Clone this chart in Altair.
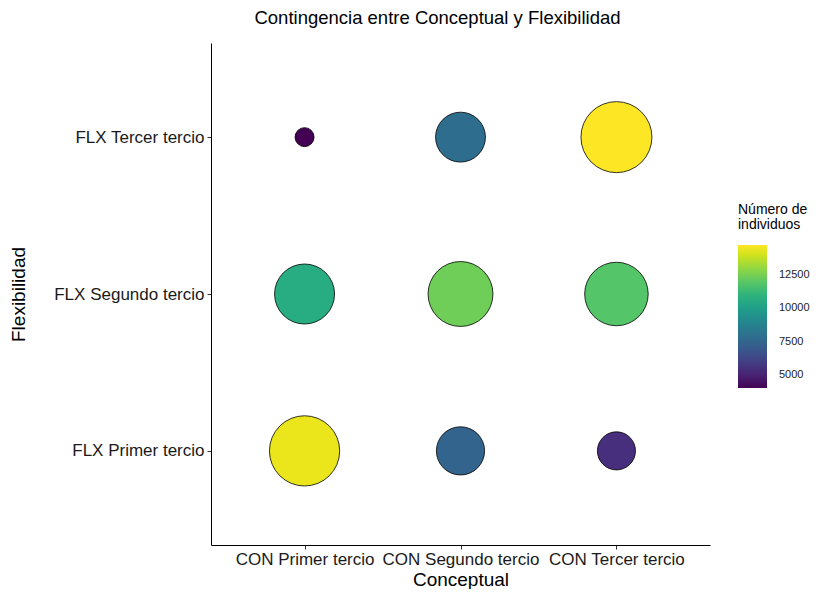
import altair as alt
import pandas as pd

con_levels = ["CON Primer tercio", "CON Segundo tercio", "CON Tercer tercio"]
flx_levels = ["FLX Primer tercio", "FLX Segundo tercio", "FLX Tercer tercio"]

con = ["CON Primer tercio", "CON Segundo tercio", "CON Tercer tercio",
       "CON Primer tercio", "CON Segundo tercio", "CON Tercer tercio",
       "CON Primer tercio", "CON Segundo tercio", "CON Tercer tercio"]
flx = ["FLX Primer tercio", "FLX Primer tercio", "FLX Primer tercio",
       "FLX Segundo tercio", "FLX Segundo tercio", "FLX Segundo tercio",
       "FLX Tercer tercio", "FLX Tercer tercio", "FLX Tercer tercio"]
n = [14450, 7400, 5450,
     10700, 12400, 11900,
     4000, 7800, 14770]

legend_values = [5000, 7500, 10000, 12500]

df = pd.DataFrame({"con": con, "flx": flx, "n": n})

FONT = "Liberation Sans"

chart = (
    alt.Chart(df)
    .transform_joinaggregate(nmin="min(n)", nmax="max(n)")
    .transform_calculate(
        diam="19 + 52 * sqrt((datum.n - datum.nmin) / (datum.nmax - datum.nmin))"
    )
    .transform_calculate(sz="datum.diam * datum.diam")
    .mark_point(shape="circle", filled=True, stroke="black", strokeWidth=0.8, opacity=1)
    .encode(
        x=alt.X("con:N", sort=con_levels, title="Conceptual",
                scale=alt.Scale(type="point", padding=0.6)),
        y=alt.Y("flx:N", sort=flx_levels[::-1], title="Flexibilidad",
                scale=alt.Scale(type="point", padding=0.6)),
        color=alt.Color("n:Q", scale=alt.Scale(scheme="viridis"),
                        title=["Número de", "individuos"],
                        legend=alt.Legend(values=legend_values, format="d",
                                          orient="none", legendX=527, legendY=160,
                                          gradientLength=143, gradientThickness=29,
                                          titleFontSize=14, labelFontSize=11,
                                          titleFontWeight="normal", titleColor="black",
                                          titleLineHeight=15,
                                          labelColor="#222222", labelOffset=12,
                                          titlePadding=13,
                                          gradientStrokeWidth=0)),
        size=alt.Size("sz:Q", scale=None, legend=None),
    )
    .properties(
        width=499, height=502,
        padding={"left": 1, "top": 1, "right": 0, "bottom": 0},
        title=alt.TitleParams("Contingencia entre Conceptual y Flexibilidad",
                              fontSize=18.5, fontWeight="normal", color="black",
                              font=FONT, anchor="middle", offset=15.5, dx=-23),
    )
    .configure(font=FONT)
    .configure_view(stroke=None)
    .configure_axis(
        grid=False, domainColor="black", domainWidth=1,
        tickColor="#333333", tickSize=4, tickWidth=1,
        labelFontSize=17, labelColor="#1a1a1a", labelPadding=3,
        titleFontSize=19, titleFontWeight="normal", titleColor="black",
    )
    .configure_axisX(labelAngle=0, titlePadding=3, labelPadding=2)
    .configure_axisY(titlePadding=25)
)

chart.save("out.html", embed_options={"renderer": "svg", "actions": False})
